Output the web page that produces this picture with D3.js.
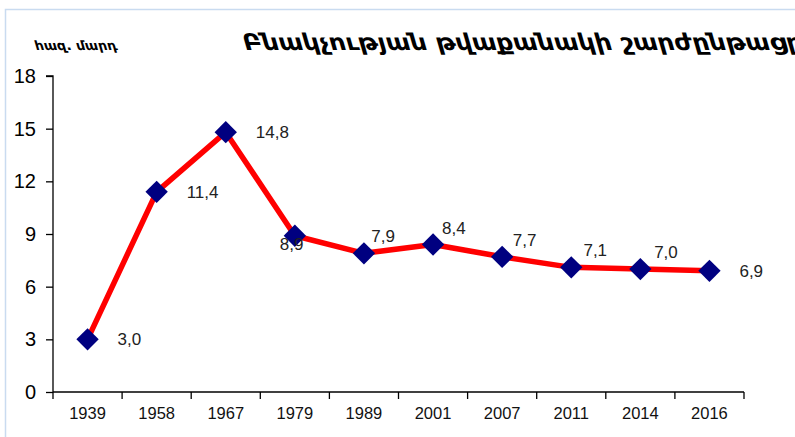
<!DOCTYPE html>
<html><head><meta charset="utf-8">
<script src="https://cdn.jsdelivr.net/npm/d3@7"></script>
<style>
html,body{margin:0;padding:0;background:#fff;}
svg{display:block;}
</style></head>
<body>
<script>
const years = ["1939","1958","1967","1979","1989","2001","2007","2011","2014","2016"];
const population = [3.0, 11.4, 14.8, 8.9, 7.9, 8.4, 7.7, 7.1, 7.0, 6.9];
const valueLabels = ["3,0","11,4","14,8","8,9","7,9","8,4","7,7","7,1","7,0","6,9"];
const labelPlacement = ["right","right","right","below","above","above","above","above","above","right"];
const yTicks = [0,3,6,9,12,15,18];
const titleText = "Բնակչության թվաքանակի շարժընթացը";
const unitText = "հազ. մարդ";

(function(){
const W = 795, H = 437;
const svg = d3.select("body").append("svg").attr("width", W).attr("height", H);

svg.append("rect").attr("x",5.5).attr("y",9.5).attr("width",W).attr("height",H)
  .attr("fill","none").attr("stroke","#c9dbf0").attr("stroke-width",1.5);

const mLeft = 53, mRight = 744, mTop = 76, mBottom = 392;
const x = d3.scaleBand().domain(years).range([mLeft, mRight]);
const y = d3.scaleLinear().domain([0,18]).range([mBottom, mTop]);

const armFont = "'DejaVu Sans', sans-serif";
svg.append("text").attr("transform","translate(245,50) skewX(16)")
  .attr("font-family",armFont).attr("font-weight","bold")
  .attr("font-size",23).attr("fill","#000")
  .attr("textLength",560).attr("lengthAdjust","spacingAndGlyphs").text(titleText);
svg.append("text").attr("transform","translate(36,50) skewX(16)")
  .attr("font-family",armFont).attr("font-weight","bold")
  .attr("font-size",13).attr("fill","#000")
  .attr("textLength",82).attr("lengthAdjust","spacingAndGlyphs").text(unitText);

const numFont = "'Liberation Sans', Arial, sans-serif";
const yAxis = d3.axisLeft(y).tickValues(yTicks).tickSize(7).tickPadding(10).tickFormat(d3.format("d"));
const gy = svg.append("g").attr("transform",`translate(${mLeft},0)`).call(yAxis);
gy.select(".domain").attr("stroke","#000").attr("stroke-width",1.3).attr("d",`M-7,${mTop}H0V${mBottom}`);
gy.selectAll(".tick line").attr("stroke","#000").attr("stroke-width",1.3);
gy.selectAll(".tick text").attr("font-family",numFont)
  .attr("font-size",20).attr("fill","#000");

const xAxis = d3.axisBottom(x).tickSize(0).tickPadding(15);
const gx = svg.append("g").attr("transform",`translate(0,${mBottom})`).call(xAxis);
gx.select(".domain").attr("stroke","#000").attr("stroke-width",1.3).attr("d",`M${mLeft},0H${mRight}`);
gx.selectAll(".tick text").attr("font-family",numFont)
  .attr("font-size",16.5).attr("fill","#111");
const bounds = years.map(d => x(d)).concat([x(years[years.length-1]) + x.bandwidth()]);
gx.selectAll("line.bound").data(bounds).enter().append("line").attr("class","bound")
  .attr("x1",d=>d).attr("x2",d=>d).attr("y1",0).attr("y2",7)
  .attr("stroke","#000").attr("stroke-width",1.3);

const cx = (d,i) => x(years[i]) + x.bandwidth()/2;
const line = d3.line().x((d,i)=>cx(d,i)).y(d=>y(d));
svg.append("path").datum(population).attr("d",line)
  .attr("fill","none").attr("stroke","#ff0000").attr("stroke-width",5.5).attr("stroke-linejoin","round");

const sym = d3.symbol().type(d3.symbolSquare).size(250);
svg.selectAll("path.pt").data(population).enter().append("path").attr("class","pt")
  .attr("d",sym).attr("fill","#000080")
  .attr("transform",(d,i)=>`translate(${cx(d,i)},${y(d)}) rotate(45)`);

svg.selectAll("text.lbl").data(population).enter().append("text").attr("class","lbl")
  .attr("font-family",numFont).attr("font-size",17).attr("fill","#222")
  .attr("x",(d,i)=>{const p=labelPlacement[i]; const c=cx(d,i);
     if(p==="right") return c+30; if(p==="below") return c-15; return c+7+i*1.6-6;})
  .attr("y",(d,i)=>{const p=labelPlacement[i]; const c=y(d);
     if(p==="right") return c+6; if(p==="below") return c+14; return c-11;})
  .text((d,i)=>valueLabels[i]);
})();
</script>
</body></html>
